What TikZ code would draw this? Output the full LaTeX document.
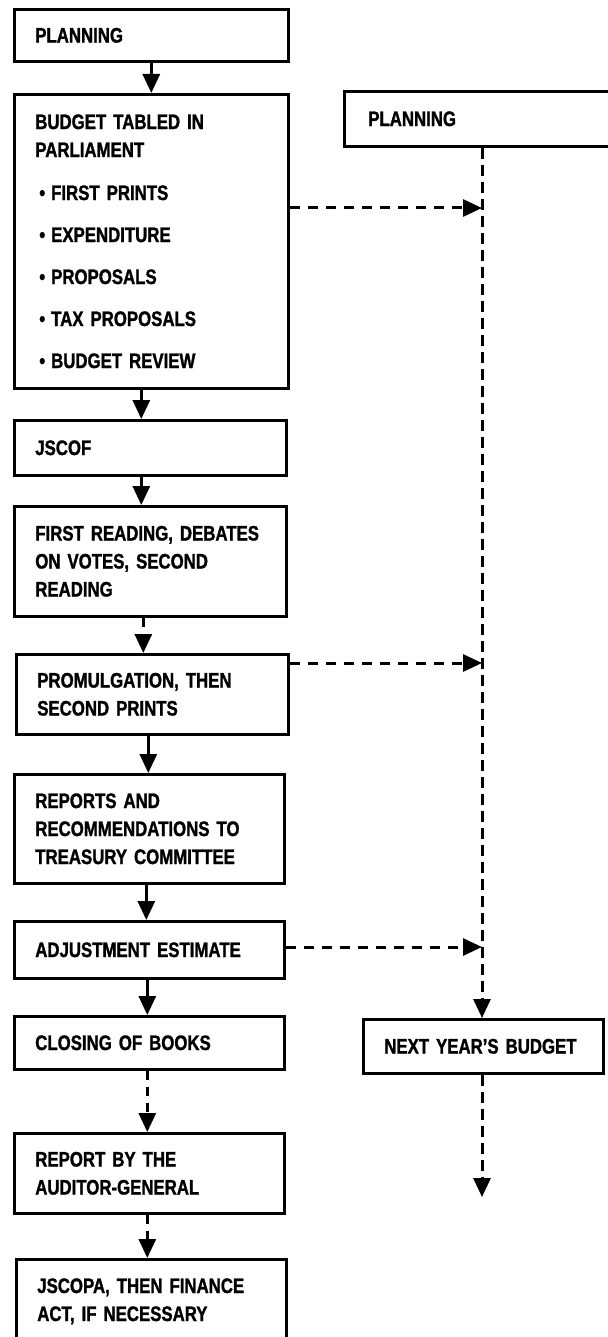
\documentclass[tikz,border=0pt]{standalone}
\usepackage{fontspec}
\setmainfont{Liberation Sans}[FakeStretch=0.8, BoldFeatures={FakeBold=1.3}]
\usetikzlibrary{arrows.meta}
\begin{document}
\begin{tikzpicture}[x=1pt,y=-1pt,
  box/.style={draw, line width=2.6pt, rectangle, anchor=north west, inner xsep=21pt, inner ysep=0pt, align=left,
    font=\fontsize{21}{28}\selectfont\bfseries},
  arr/.style={line width=3pt, -{Triangle[length=19pt,width=17pt]}},
  darr/.style={line width=3pt, dash pattern=on 9pt off 7pt, -{Triangle[length=19pt,width=17pt]}},
  hdash/.style={line width=3pt, dash pattern=on 10pt off 8pt, -{Triangle[length=19pt,width=17pt]}},
  vdash/.style={line width=3pt, dash pattern=on 11pt off 6pt, -{Triangle[length=19pt,width=17pt]}}
]
\useasboundingbox (0,0) rectangle (607,1337);
\fill[white] (0,0) rectangle (607,1337);

% left column
\node[box, text width=232pt, minimum height=52pt] (p1) at (13,8) {PLANNING};
\node[box, text width=232pt, minimum height=294pt] (b2) at (13,93) {BUDGET TABLED IN\\PARLIAMENT\\[15pt]
  \hspace*{4pt}\textbullet\hspace{6pt}FIRST PRINTS\\[14pt]
  \hspace*{4pt}\textbullet\hspace{6pt}EXPENDITURE\\[14pt]
  \hspace*{4pt}\textbullet\hspace{6pt}PROPOSALS\\[14pt]
  \hspace*{4pt}\textbullet\hspace{6pt}TAX PROPOSALS\\[14pt]
  \hspace*{4pt}\textbullet\hspace{6pt}BUDGET REVIEW};
\node[box, text width=230pt, minimum height=55pt] (j3) at (13,419) {JSCOF};
\node[box, text width=230pt, minimum height=110pt] (f4) at (13,505) {FIRST READING, DEBATES\\ON VOTES, SECOND\\READING};
\node[box, text width=230pt, minimum height=80pt] (pr5) at (15,653) {PROMULGATION, THEN\\SECOND PRINTS};
\node[box, text width=228pt, minimum height=109pt] (r6) at (13,773) {REPORTS AND\\RECOMMENDATIONS TO\\TREASURY COMMITTEE};
\node[box, text width=228pt, minimum height=57pt] (a7) at (13,920) {ADJUSTMENT ESTIMATE};
\node[box, text width=228pt, minimum height=53pt] (c8) at (13,1015) {CLOSING OF BOOKS};
\node[box, text width=228pt, minimum height=80pt] (rep9) at (13,1132) {REPORT BY THE\\AUDITOR-GENERAL};
\node[box, text width=228pt, minimum height=84pt] (js10) at (15,1258) {JSCOPA, THEN FINANCE\\ACT, IF NECESSARY};

% right column
\node[box, inner xsep=24pt, text width=224pt, minimum height=55pt] (rp) at (343,90) {PLANNING};
\node[box, text width=198pt, minimum height=54pt] (ny) at (362,1018) {NEXT YEAR'S BUDGET};

% main column arrows
\coordinate (s2) at ([xshift=-10pt]b2.south);
\coordinate (s3) at ([xshift=-9pt]j3.south);
\coordinate (s4) at ([xshift=-7pt]f4.south);
\coordinate (s5) at ([xshift=-4pt]pr5.south);
\coordinate (s6) at ([xshift=-3pt]r6.south);
\coordinate (s7) at ([xshift=-2pt]a7.south);
\coordinate (s8) at ([xshift=-2pt]c8.south);
\coordinate (s9) at ([xshift=-2pt]rep9.south);
\draw[arr] (p1.south) -- (b2.north);
\draw[arr] (s2) -- (s2 |- j3.north);
\draw[arr] (s3) -- (s3 |- f4.north);
\draw[darr] (s4) -- (s4 |- pr5.north);
\draw[arr] (s5) -- (s5 |- r6.north);
\draw[arr] (s6) -- (s6 |- a7.north);
\draw[arr] (s7) -- (s7 |- c8.north);
\draw[darr] (s8) -- (s8 |- rep9.north);
\draw[darr] (s9) -- (s9 |- js10.north);

% right dashed line
\coordinate (h1) at (482,208);
\coordinate (h2) at (482,663);
\coordinate (h3) at (482,947);
\coordinate (endp) at (482,1197);
\draw[vdash] (rp.south -| h1) -- (ny.north -| h1);
\draw[vdash] (ny.south -| h1) -- (endp);

% horizontal dashed arrows
\draw[hdash] (b2.east |- h1) -- (h1);
\draw[hdash] (pr5.east |- h2) -- (h2);
\draw[hdash] (a7.east |- h3) -- (h3);
\end{tikzpicture}
\end{document}
